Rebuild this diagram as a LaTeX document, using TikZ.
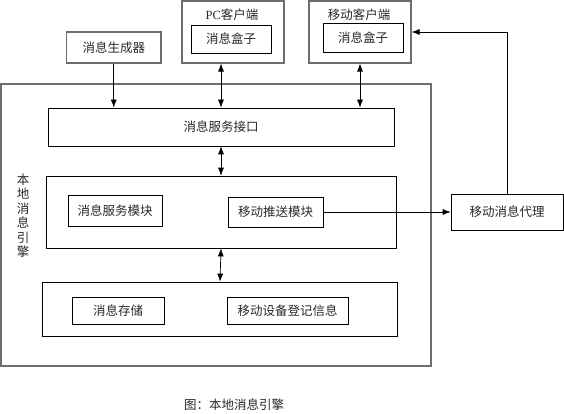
\documentclass[tikz,border=0pt]{standalone}
\usepackage{fontspec}
\setmainfont{Liberation Serif}
\newfontfamily\cjk{Noto Sans CJK SC}
\usetikzlibrary{arrows.meta}

\tikzset{
    outerbox/.style={draw={rgb,255:red,110;green,110;blue,110}, line width=1.1pt, inner sep=0pt},
    innerbox/.style={draw=black, line width=0.7pt, inner sep=0pt},
    conn/.style={line width=0.7pt, -{Latex[length=8pt,width=6pt]}},
    biconn/.style={line width=0.7pt, {Latex[length=8pt,width=6pt]}-{Latex[length=8pt,width=6pt]}}
}

\begin{document}
\begin{tikzpicture}[x=1pt, y=-1pt, font=\cjk\fontsize{12.5}{14.5}\selectfont, text={rgb,255:red,40;green,40;blue,40}]

        % Page size
        \useasboundingbox (0,0) rectangle (564,414);

        % Engine frame
        \node[outerbox, minimum width=430, minimum height=282] (engine) at (216,225) {};
        \node[align=center, text width=13pt, font=\cjk\fontsize{12.5}{14.5}\selectfont] (enginelabel) at (23,216) {本\\地\\消\\息\\引\\擎};

        % Outside boxes
        \node[outerbox, minimum width=94.5, minimum height=31] (gen) at (113.75,47.5) {消息生成器};
        \node[outerbox, minimum width=102, minimum height=62] (pc) at (233,32) {};
        \node (pctitle) at (232,15) {{\rmfamily PC}客户端};
        \node[innerbox, minimum width=80, minimum height=28] (pcbox) at (231,39) {消息盒子};
        \node[outerbox, minimum width=102, minimum height=62] (mob) at (360,32) {};
        \node (mobtitle) at (359,15) {移动客户端};
        \node[innerbox, minimum width=80, minimum height=29] (mobbox) at (363,37.5) {消息盒子};
        \node[innerbox, minimum width=112, minimum height=36] (agent) at (507,212) {移动消息代理};

        % Layers
        \node[innerbox, minimum width=346, minimum height=38] (iface) at (221,127) {消息服务接口};
        \node[innerbox, minimum width=350, minimum height=72] (modules) at (221,212) {};
        \node[innerbox, minimum width=94, minimum height=31] (svcmod) at (115,210.5) {消息服务模块};
        \node[innerbox, minimum width=95, minimum height=30] (pushmod) at (275.5,212) {移动推送模块};
        \node[innerbox, minimum width=355, minimum height=54] (store) at (220,309) {};
        \node[innerbox, minimum width=92, minimum height=27] (msgstore) at (118,310.5) {消息存储};
        \node[innerbox, minimum width=121, minimum height=27] (devreg) at (287.5,310.5) {移动设备登记信息};

        % Connectors
        \draw[conn] (gen.south) -- (gen.south |- iface.north);
        \draw[biconn] (pc.south -| iface.north) -- (iface.north);
        \draw[biconn] (mob.south) -- (mob.south |- iface.north);
        \draw[biconn] (iface.south) -- (modules.north);
        \draw[biconn] (modules.south) -- (store.north);
        \draw[conn] (pushmod.east) -- (agent.west);
        \draw[conn] (agent.north) |- (mob.east);

        % Caption
        \node (caption) at (234,405) {图：本地消息引擎};

\end{tikzpicture}
\end{document}
